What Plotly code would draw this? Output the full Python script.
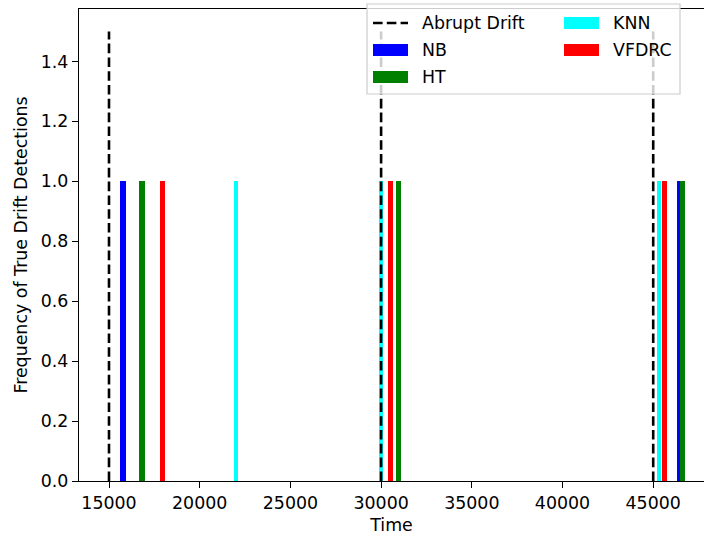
import plotly.graph_objects as go

# ---------------- data ----------------
drift_points = [15000, 30000, 45000]
drift_height = 1.5

nb_bins = [15772, 46460]
nb_freq = [1, 1]
ht_bins = [16830, 30970, 46620]
ht_freq = [1, 1, 1]
knn_bins = [21985, 30010, 45310]
knn_freq = [1, 1, 1]
vfdrc_bins = [17938, 30530, 45620]
vfdrc_freq = [1, 1, 1]

x_ticks = [15000, 20000, 25000, 30000, 35000, 40000, 45000]
y_ticks = [0.0, 0.2, 0.4, 0.6, 0.8, 1.0, 1.2, 1.4]

# ---------------- styles ----------------
W, H = 704, 536
ML, MR, MT, MB = 79, 0, 9, 55
PW, PH = W - ML - MR, H - MT - MB
FONT = "DejaVu Sans"
FS = 17.4
DASH = "9.6px,4.2px"

series = [
    ("NB", nb_bins, nb_freq, "#0000ff", 320),
    ("HT", ht_bins, ht_freq, "#008000", 300),
    ("KNN", knn_bins, knn_freq, "#00ffff", 215),
    ("VFDRC", vfdrc_bins, vfdrc_freq, "#ff0000", 300),
]

fig = go.Figure()
for name, xs, ys, col, w in series:
    fig.add_trace(go.Bar(
        x=xs, y=ys, width=[w] * len(xs), name=name,
        marker=dict(color=col, line=dict(width=0)),
        showlegend=False,
    ))

# drift lines
dx, dy = [], []
for d in drift_points:
    dx += [d, d, None]
    dy += [0, drift_height, None]
fig.add_trace(go.Scatter(
    x=dx, y=dy, mode="lines", name="Abrupt Drift",
    line=dict(color="black", width=2.6, dash=DASH),
    showlegend=False, hoverinfo="skip",
))


def xp(px):
    return (px - ML) / PW


def yp(py):
    return (MT + PH - py) / PH


# ---------------- manual legend ----------------
shapes = [dict(
    type="rect", xref="paper", yref="paper",
    x0=xp(367), x1=xp(680), y0=yp(94), y1=yp(4),
    fillcolor="rgba(255,255,255,0.8)", line=dict(color="#cccccc", width=1.2),
    layer="above",
)]
annotations = []
legend_items = [
    ("Abrupt Drift", "dash", "black", 373, 23),
    ("NB", "rect", "#0000ff", 373, 50),
    ("HT", "rect", "#008000", 373, 77),
    ("KNN", "rect", "#00ffff", 564, 23),
    ("VFDRC", "rect", "#ff0000", 564, 50),
]
for label, kind, col, sx, sy in legend_items:
    if kind == "dash":
        shapes.append(dict(
            type="line", xref="paper", yref="paper",
            x0=xp(sx), x1=xp(sx + 35), y0=yp(sy), y1=yp(sy),
            line=dict(color=col, width=2.6, dash=DASH), layer="above",
        ))
    else:
        shapes.append(dict(
            type="rect", xref="paper", yref="paper",
            x0=xp(sx), x1=xp(sx + 35), y0=yp(sy + 6.1), y1=yp(sy - 6.1),
            fillcolor=col, line=dict(width=0), layer="above",
        ))
    annotations.append(dict(
        text=label, xref="paper", yref="paper",
        x=xp(sx + 47), y=yp(sy), xanchor="left", yanchor="middle",
        showarrow=False, font=dict(family=FONT, size=FS, color="black"),
    ))

fig.update_layout(
    width=W, height=H,
    margin=dict(l=ML, r=MR, t=MT, b=MB, pad=0),
    paper_bgcolor="white", plot_bgcolor="white",
    barmode="overlay", bargap=0,
    font=dict(family=FONT, size=FS, color="black"),
    shapes=shapes, annotations=annotations,
    showlegend=False,
)
fig.update_xaxes(
    range=[13346, 47800], tickvals=x_ticks, tickformat="d",
    ticks="outside", ticklen=6, tickwidth=1.4, tickcolor="black",
    showline=True, linecolor="black", linewidth=1.4, mirror=True,
    showgrid=False, zeroline=False,
    title=dict(text="Time", font=dict(family=FONT, size=FS, color="black"),
               standoff=6),
)
fig.update_yaxes(
    range=[0, 1.575], tickvals=y_ticks, tickformat=".1f",
    ticks="outside", ticklen=6, tickwidth=1.4, tickcolor="black",
    showline=True, linecolor="black", linewidth=1.4, mirror=False,
    showgrid=False, zeroline=False,
    title=dict(text="Frequency of True Drift Detections",
               font=dict(family=FONT, size=FS, color="black"), standoff=8),
)

fig.write_html("out.html")
